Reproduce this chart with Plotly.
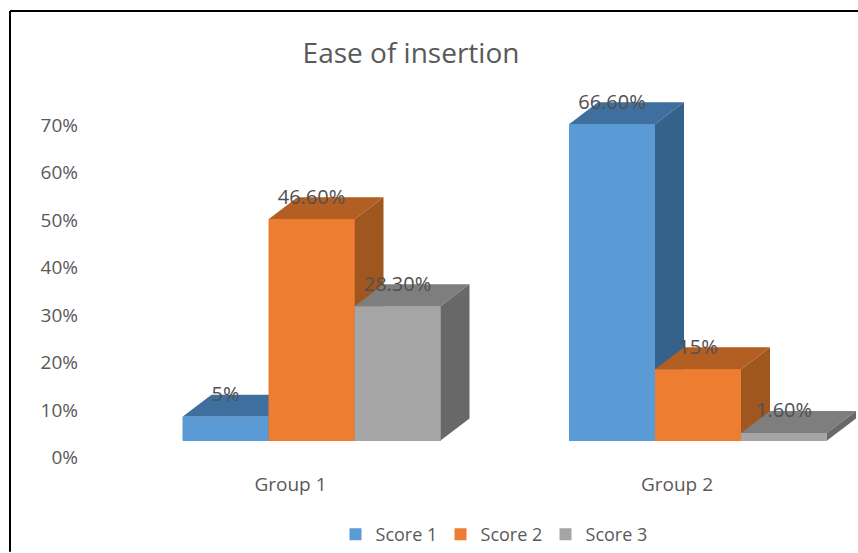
import plotly.graph_objects as go

groups = ["Group 1", "Group 2"]
series = ["Score 1", "Score 2", "Score 3"]
score_1 = [5, 66.6]
score_2 = [46.6, 15]
score_3 = [28.3, 1.6]
labels_1 = ["5%", "66.60%"]
labels_2 = ["46.60%", "15%"]
labels_3 = ["28.30%", "1.60%"]
tick_labels = ["0%", "10%", "20%", "30%", "40%", "50%", "60%", "70%"]
tick_values = [0, 10, 20, 30, 40, 50, 60, 70]

front = ["#5B9BD5", "#ED7D31", "#A5A5A5"]
top = ["#3F6F9E", "#B35E22", "#7E7E7E"]
side = ["#35628A", "#A0561F", "#686868"]
INK = "#595959"
FONT = "Open Sans"

W, H = 858, 553
PL, PR, PT, PB = 79, 0, 0, 81
Y_PX = 4.76
X_PX = 386.5
BAR_W = 86 / X_PX
DX = 29 / X_PX
DY = 22 / Y_PX
TICK_SHIFT = 3.6
X0_PX = 311.5
BASE_PX = 441.5
GROUP_LABEL_SHIFT = 21 / X_PX

x_min = (PL - X0_PX) / X_PX
x_max = (W - PR - X0_PX) / X_PX
y_max = (BASE_PX - PT) / Y_PX
y_min = (BASE_PX - (H - PB)) / Y_PX

values = [score_1, score_2, score_3]
labels = [labels_1, labels_2, labels_3]
fig = go.Figure()


def poly(xs, ys, color):
    fig.add_trace(go.Scatter(
        x=xs, y=ys, mode="lines", fill="toself", fillcolor=color,
        line=dict(width=0, color=color), hoverinfo="skip", showlegend=False,
    ))


for s, name in enumerate(series):
    fig.add_trace(go.Bar(
        x=[g + (s - 1) * BAR_W for g in range(len(groups))], y=values[s],
        width=BAR_W, name=name, marker=dict(color=front[s], line=dict(width=0)),
    ))

for g in range(len(groups)):
    for s in range(len(series)):
        v = values[s][g]
        x0 = g + (s - 1.5) * BAR_W
        x1 = x0 + BAR_W
        poly([x0, x1, x1 + DX, x0 + DX, x0], [v, v, v + DY, v + DY, v], top[s])
        poly([x1, x1 + DX, x1 + DX, x1, x1], [0, DY, v + DY, v, 0], side[s])
        poly([x0, x1, x1, x0, x0], [0, 0, v, v, 0], front[s])

for s in range(len(series)):
    fig.add_trace(go.Scatter(
        x=[g + (s - 1) * BAR_W for g in range(len(groups))],
        y=[v + DY - 0.3 for v in values[s]],
        mode="text", text=labels[s], textposition="middle center",
        textfont=dict(family=FONT, size=20, color="#505050"),
        hoverinfo="skip", showlegend=False,
    ))

line_x = -(PL - 10) / (W - PL)
line_y = 1 - (11 - PT) / (H - PB - PT)

fig.update_layout(
    width=W, height=H, autosize=False,
    margin=dict(l=PL, r=PR, t=PT, b=PB),
    paper_bgcolor="white", plot_bgcolor="white",
    barmode="overlay", bargap=0,
    font=dict(family=FONT, color=INK),
    title=dict(
        text="Ease of insertion", x=411 / W, xanchor="center", y=1 - 53 / H,
        yanchor="middle", font=dict(family=FONT, size=28, color=INK),
    ),
    xaxis=dict(
        range=[x_min, x_max], tickmode="array",
        tickvals=[g - GROUP_LABEL_SHIFT for g in range(len(groups))], ticktext=groups,
        showgrid=False, zeroline=False, showline=False, ticks="", fixedrange=True,
        tickfont=dict(family=FONT, size=19, color=INK),
    ),
    yaxis=dict(
        range=[y_min, y_max], tickmode="array",
        tickvals=[t - TICK_SHIFT for t in tick_values], ticktext=tick_labels,
        showgrid=False, zeroline=False, showline=False, ticks="", fixedrange=True,
        tickfont=dict(family=FONT, size=19, color=INK),
    ),
    legend=dict(
        orientation="h", x=456 / W, xanchor="center", xref="paper",
        y=-(536 - (H - PB)) / (H - PB - PT), yanchor="middle",
        font=dict(family=FONT, size=18, color=INK),
        traceorder="normal", entrywidth=60, entrywidthmode="pixels",
    ),
    shapes=[
        dict(type="line", xref="paper", yref="paper", x0=line_x, x1=1,
             y0=line_y, y1=line_y, line=dict(color="black", width=2)),
        dict(type="line", xref="paper", yref="paper", x0=line_x, x1=line_x,
             y0=line_y, y1=-PB / (H - PB - PT), line=dict(color="black", width=2)),
    ],
)

fig.write_html(
    "out.html",
    config={"displayModeBar": False},
    post_script="document.documentElement.style.overflow='hidden';"
                "document.body.style.margin='0';",
)
